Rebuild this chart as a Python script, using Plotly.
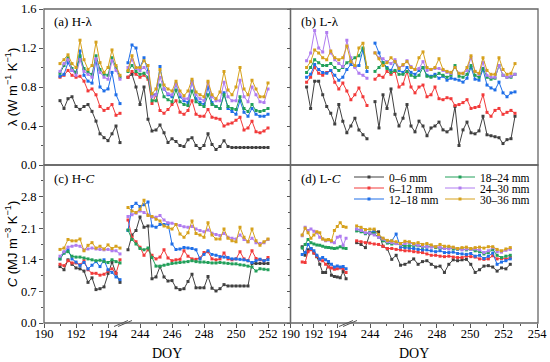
import plotly.graph_objects as go

# ---------------- time grid (DOY) ----------------
DAYS_1 = [191.0 + 0.25 * i for i in range(16)]          # first period
DAYS_2 = [243.25 + 0.25 * i for i in range(36)]         # second period
DAYS_2_LC = [round(243.2 + i * 9.2 / 35, 3) for i in range(36)]  # second period, panel (d)

LAYERS = ["0–6 mm", "6–12 mm", "12–18 mm", "18–24 mm", "24–30 mm", "30–36 mm"]
COLORS = ["#404040", "#f23a3a", "#1f6fe8", "#22a05a", "#b07cf0", "#d6a11c"]

# ---------------- (a) H-lambda ----------------
HL_06_1 = [0.66,0.58,0.68,0.70,0.60,0.57,0.60,0.62,0.55,0.45,0.32,0.28,0.25,0.32,0.40,0.23]
HL_612_1 = [0.90,0.92,0.97,0.92,0.90,0.91,0.86,0.76,0.78,0.72,0.60,0.56,0.58,0.62,0.51,0.53]
HL_1218_1 = [0.91,0.93,1.05,0.97,0.95,1.17,0.92,0.86,0.84,1.08,0.80,0.76,0.78,0.95,0.72,0.63]
HL_1824_1 = [0.94,1.02,1.10,0.99,0.95,1.12,0.99,0.95,0.93,1.12,0.98,0.93,0.92,1.10,1.00,0.90]
HL_2430_1 = [0.96,1.04,1.08,0.97,0.92,1.08,0.96,0.93,0.90,1.09,0.95,0.90,0.88,1.07,0.97,0.88]
HL_3036_1 = [1.04,1.08,1.13,1.04,1.00,1.28,1.08,0.98,1.02,1.26,1.05,0.95,1.00,1.18,1.02,0.92]

HL_06_2 = [0.90,0.93,0.80,0.62,0.80, 0.47,0.35,0.36,0.41,0.33, 0.23,0.27,0.24,0.20,0.19,
           0.26,0.28,0.20,0.17,0.20, 0.32,0.21,0.16,0.19,0.25, 0.19,0.18,0.18,0.18,0.18,
           0.18,0.18,0.18,0.18,0.18, 0.18]
HL_612_2 = [0.90,0.96,0.93,0.90,0.92, 0.88,0.63,0.72,0.56,0.53, 0.57,0.62,0.66,0.54,0.52,
            0.56,0.66,0.52,0.50,0.50, 0.57,0.49,0.48,0.47,0.40, 0.42,0.43,0.46,0.49,0.36,
            0.38,0.45,0.34,0.33,0.35, 0.38]
HL_1218_2 = [1.05,1.23,1.20,1.00,1.10, 0.96,0.72,0.72,1.01,0.78, 0.72,0.70,0.83,0.70,0.66,
             0.64,0.86,0.68,0.64,0.62, 0.80,0.64,0.60,0.58,0.74, 0.58,0.55,0.52,0.66,0.54,
             0.50,0.58,0.52,0.50,0.50, 0.52]
HL_1824_2 = [0.96,1.02,0.96,0.93,0.94, 0.90,0.66,0.66,0.82,0.70, 0.67,0.65,0.77,0.65,0.62,
             0.61,0.76,0.65,0.62,0.60, 0.72,0.62,0.60,0.58,0.72, 0.60,0.58,0.57,0.70,0.58,
             0.55,0.62,0.56,0.55,0.56, 0.58]
HL_2430_2 = [1.00,1.08,0.99,0.97,1.00, 0.95,0.70,0.72,0.90,0.78, 0.73,0.72,0.83,0.72,0.68,
             0.68,0.85,0.72,0.68,0.66, 0.84,0.70,0.66,0.66,0.85, 0.70,0.66,0.66,0.87,0.70,
             0.65,0.80,0.72,0.65,0.64, 0.78]
HL_3036_2 = [0.97,1.12,1.00,1.00,1.07, 1.02,0.73,0.78,0.98,0.82, 0.78,0.76,0.86,0.76,0.71,
             0.76,0.88,0.75,0.72,0.70, 0.86,0.72,0.68,0.75,0.96, 0.77,0.72,0.80,1.00,0.78,
             0.72,0.87,0.78,0.70,0.70, 0.84]

# ---------------- (b) L-lambda ----------------
LL_06_1 = [0.80,0.58,0.86,0.86,0.72,0.60,0.53,0.42,0.62,0.45,0.33,0.40,0.48,0.36,0.31,0.27]
LL_612_1 = [0.85,0.90,1.00,0.94,0.92,0.95,0.97,0.85,0.78,0.84,0.76,0.67,0.72,0.79,0.70,0.61]
LL_1218_1 = [0.90,0.93,1.03,0.98,0.95,0.94,0.97,0.92,0.87,0.90,0.98,1.03,1.01,1.02,1.18,0.96]
LL_1824_1 = [0.95,1.00,1.08,1.05,1.02,1.02,1.04,1.00,0.97,1.00,1.05,1.07,1.10,1.12,1.20,1.00]
LL_2430_1 = [1.07,1.15,1.38,1.20,1.16,1.36,1.15,1.08,1.04,1.01,1.28,1.10,1.00,0.94,0.92,0.89]
LL_3036_1 = [1.00,1.06,1.18,1.15,1.10,1.08,1.17,1.10,1.08,1.10,1.22,1.06,1.02,1.20,1.25,1.00]

LL_06_2 = [0.65,0.38,0.72,0.58,0.78, 0.52,0.40,0.48,0.62,0.40, 0.34,0.45,0.40,0.30,0.38,
           0.40,0.44,0.36,0.34,0.37, 0.60,0.20,0.36,0.44,0.33, 0.32,0.35,0.50,0.31,0.30,
           0.29,0.28,0.22,0.26,0.27, 0.50]
LL_612_2 = [0.88,0.92,0.90,0.96,0.93, 0.96,0.80,0.83,0.96,0.80, 0.74,0.80,0.82,0.70,0.72,
            0.80,0.68,0.67,0.69,0.68, 0.61,0.62,0.64,0.67,0.58, 0.59,0.60,0.72,0.54,0.50,
            0.56,0.58,0.52,0.54,0.56, 0.53]
LL_1218_2 = [1.25,1.15,1.05,1.00,0.97, 1.06,0.97,0.95,1.00,0.95, 0.93,0.97,1.00,0.92,0.91,
             0.93,0.89,0.91,0.87,0.89, 0.88,0.87,0.85,0.89,1.00, 0.88,0.87,0.98,0.82,0.79,
             0.77,0.85,0.74,0.70,0.74, 0.75]
LL_1824_2 = [0.96,1.00,1.05,0.99,0.95, 0.97,0.93,0.93,0.96,0.92, 0.90,0.92,1.00,0.91,0.90,
             0.91,0.94,0.92,0.90,0.92, 1.02,0.91,0.90,0.93,1.02, 0.92,0.90,0.99,0.90,0.88,
             0.89,1.02,0.92,0.90,0.90, 0.93]
LL_2430_2 = [1.15,1.10,1.09,1.06,1.04, 1.08,1.00,1.02,1.07,1.01, 0.98,0.99,1.06,0.97,0.98,
             0.99,0.99,0.97,0.95,0.94, 1.00,0.94,0.94,0.97,1.10, 0.96,0.93,1.05,0.92,0.90,
             0.90,1.02,0.92,0.90,0.91, 0.93]
LL_3036_2 = [1.15,1.09,1.02,1.05,1.10, 1.06,0.99,1.03,1.06,1.00, 0.98,1.10,1.16,1.00,0.98,
             1.00,1.09,0.98,0.96,0.95, 1.00,0.94,0.94,1.00,1.12, 0.96,0.94,1.10,0.97,0.93,
             0.93,1.10,0.98,0.93,0.94, 1.04]

# ---------------- (c) H-C ----------------
HC_06_1 = [1.25,1.18,1.40,1.30,1.22,1.20,1.15,0.90,1.00,0.74,0.76,0.80,1.10,1.35,1.10,0.90]
HC_612_1 = [1.30,1.27,1.38,1.33,1.33,1.29,1.38,1.18,1.10,1.10,1.06,1.08,1.15,1.20,1.10,1.40]
HC_1218_1 = [1.42,1.55,1.62,1.42,1.35,1.27,1.34,1.20,1.28,1.36,1.25,1.40,1.18,1.12,1.02,0.96]
HC_1824_1 = [1.42,1.55,1.58,1.48,1.46,1.46,1.44,1.42,1.40,1.38,1.39,1.36,1.34,1.40,1.36,1.33]
HC_2430_1 = [1.48,1.58,1.68,1.70,1.72,1.70,1.62,1.64,1.66,1.64,1.63,1.62,1.63,1.60,1.60,1.53]
HC_3036_1 = [1.63,1.66,1.85,1.82,1.82,1.86,1.60,1.72,1.78,1.66,1.70,1.64,1.73,1.65,1.70,1.66]

HC_06_2 = [1.62,1.95,2.05,2.35,2.12, 2.15,0.98,1.02,1.25,1.02, 0.93,0.94,0.78,0.74,0.76,
           0.92,1.08,0.78,0.78,0.78, 1.03,0.77,0.71,0.76,0.85, 0.82,0.82,0.82,0.82,0.82,
           0.82,1.32,1.32,1.32,1.32, 1.32]
HC_612_2 = [2.28,1.90,1.80,1.68,1.50, 1.62,1.50,1.42,1.46,1.62, 1.44,1.38,1.40,1.41,1.60,
            1.48,1.42,1.41,1.44,1.56, 1.58,1.42,1.40,1.42,1.55, 1.42,1.40,1.42,1.58,1.42,
            1.38,1.60,1.43,1.40,1.38, 1.45]
HC_1218_2 = [2.05,2.58,2.65,2.58,2.62, 2.68,2.15,2.12,2.18,2.18, 2.20,1.75,1.63,1.64,1.67,
             1.66,1.65,1.62,1.42,1.52, 1.60,1.52,1.50,1.47,1.46, 1.45,1.42,1.42,1.41,1.40,
             1.38,1.34,1.38,1.41,1.38, 1.40]
HC_1824_2 = [2.06,1.85,1.75,1.65,1.62, 1.66,1.45,1.26,1.26,1.28, 1.30,1.32,1.33,1.34,1.35,
             1.36,1.38,1.36,1.35,1.35, 1.34,1.33,1.33,1.34,1.33, 1.32,1.31,1.31,1.29,1.28,
             1.26,1.24,1.15,1.20,1.19, 1.18]
HC_2430_2 = [2.36,2.40,2.43,2.48,2.45, 2.40,2.34,2.34,2.38,2.28, 2.22,2.21,2.18,2.16,2.13,
             2.12,2.14,2.08,2.05,2.02, 2.06,1.99,1.96,1.94,1.98, 1.90,1.88,1.86,1.95,1.85,
             1.80,1.88,1.78,1.76,1.78, 1.85]
HC_3036_2 = [2.56,2.48,2.45,2.52,2.72, 2.38,2.36,2.30,2.26,2.15, 2.12,2.08,2.18,1.97,1.90,
             2.00,2.26,1.98,1.95,1.90, 2.22,1.95,1.86,1.86,2.08, 1.88,1.82,1.80,2.12,1.90,
             1.80,2.08,1.82,1.72,1.80, 1.86]

# ---------------- (d) L-C ----------------
LC_06_1 = [1.69,1.50,1.62,1.65,1.55,1.47,1.30,1.12,1.12,1.34,1.06,1.03,1.02,1.00,1.14,0.98]
LC_612_1 = [1.35,1.34,1.58,1.62,1.55,1.48,1.40,1.38,1.30,1.24,1.22,1.19,1.20,1.22,1.20,1.12]
LC_1218_1 = [1.52,1.56,1.74,1.65,1.60,1.50,1.42,1.45,1.40,1.36,1.30,1.24,1.26,1.24,1.25,1.20]
LC_1824_1 = [1.66,1.74,1.85,1.78,1.75,1.73,1.72,1.70,1.68,1.67,1.66,1.65,1.66,1.69,1.66,1.65]
LC_2430_1 = [1.93,2.12,2.05,2.08,2.03,2.00,1.90,1.86,1.82,1.84,1.80,1.78,1.90,1.92,1.72,1.88]
LC_3036_1 = [1.95,2.10,2.00,1.88,1.95,2.02,2.00,1.86,1.84,1.85,1.82,2.05,2.14,2.22,2.14,2.12]

LC_06_2 = [1.78,1.74,1.67,1.98,2.03, 2.02,1.70,1.64,1.41,1.50, 1.28,1.30,1.35,1.42,1.30,
           1.36,1.38,1.30,1.24,1.26, 1.12,1.30,1.40,1.38,1.40, 1.41,1.30,1.12,1.18,1.26,
           1.27,1.24,1.15,1.22,1.20, 1.30]
LC_612_2 = [1.82,1.80,1.78,1.77,1.75, 1.74,1.70,1.65,1.65,1.63, 1.62,1.60,1.60,1.58,1.57,
            1.56,1.53,1.50,1.50,1.48, 1.47,1.48,1.46,1.45,1.45, 1.48,1.47,1.46,1.42,1.41,
            1.42,1.49,1.42,1.43,1.42, 1.45]
LC_1218_2 = [2.08,2.06,1.98,2.00,2.04, 1.94,1.86,1.79,1.82,1.97, 1.68,1.67,1.66,1.65,1.63,
             1.62,1.62,1.60,1.58,1.60, 1.56,1.56,1.57,1.54,1.53, 1.52,1.54,1.48,1.50,1.43,
             1.48,1.55,1.30,1.35,1.38, 1.42]
LC_1824_2 = [2.04,2.02,1.98,2.00,1.98, 1.90,1.82,1.77,1.75,1.76, 1.72,1.71,1.71,1.72,1.71,
             1.68,1.69,1.70,1.67,1.66, 1.65,1.66,1.64,1.63,1.64, 1.62,1.63,1.60,1.58,1.53,
             1.56,1.63,1.50,1.45,1.48, 1.50]
LC_2430_2 = [2.08,2.05,2.00,1.99,1.95, 1.90,1.86,1.80,1.78,1.76, 1.73,1.76,1.78,1.74,1.72,
             1.70,1.69,1.68,1.69,1.67, 1.65,1.64,1.67,1.64,1.62, 1.64,1.63,1.64,1.62,1.56,
             1.60,1.67,1.58,1.57,1.61, 1.63]
LC_3036_2 = [2.15,2.12,2.07,2.08,2.08, 1.96,1.88,1.83,1.82,1.80, 1.76,1.81,1.80,1.76,1.78,
             1.74,1.76,1.73,1.69,1.74, 1.70,1.70,1.68,1.65,1.67, 1.68,1.65,1.67,1.68,1.66,
             1.69,1.69,1.63,1.60,1.64, 1.67]

Y_TICKS_LAMBDA = [0.0, 0.4, 0.8, 1.2, 1.6]
Y_TICKS_C = [0.0, 0.7, 1.4, 2.1, 2.8]
X_TICKS_1 = [190, 192, 194]
X_TICKS_2_LEFT = [244, 246, 248, 250, 252]
X_TICKS_2_RIGHT = [244, 246, 248, 250, 252, 254]

# ---------------- geometry ----------------
W, H = 550, 362
ML, MR, MT, MB = 44, 12, 9, 39
PW, PH = W - ML - MR, H - MT - MB


def fx(p):
    return (p - ML) / PW


def fy(p):
    return (H - MB - p) / PH


XL0, XMID, XR1 = 44, 290.5, 538
BRK_L, BRK_B, BRK_D = 124, 371, 349
YMID = 165

FONT = "Liberation Serif"
AX_COL = "#555555"

panels = [
    # name, xa, xb, y, days2, seg1 lists, seg2 lists
    ("a", "x", "x2", "y", DAYS_2,
     [HL_06_1, HL_612_1, HL_1218_1, HL_1824_1, HL_2430_1, HL_3036_1],
     [HL_06_2, HL_612_2, HL_1218_2, HL_1824_2, HL_2430_2, HL_3036_2]),
    ("b", "x3", "x4", "y2", DAYS_2,
     [LL_06_1, LL_612_1, LL_1218_1, LL_1824_1, LL_2430_1, LL_3036_1],
     [LL_06_2, LL_612_2, LL_1218_2, LL_1824_2, LL_2430_2, LL_3036_2]),
    ("c", "x5", "x6", "y3", DAYS_2,
     [HC_06_1, HC_612_1, HC_1218_1, HC_1824_1, HC_2430_1, HC_3036_1],
     [HC_06_2, HC_612_2, HC_1218_2, HC_1824_2, HC_2430_2, HC_3036_2]),
    ("d", "x7", "x8", "y4", DAYS_2_LC,
     [LC_06_1, LC_612_1, LC_1218_1, LC_1824_1, LC_2430_1, LC_3036_1],
     [LC_06_2, LC_612_2, LC_1218_2, LC_1824_2, LC_2430_2, LC_3036_2]),
]

LEGEND_IDS = ["legend", "legend2", "legend3", "legend4", "legend5", "legend6"]

fig = go.Figure()
for name, xa, xb, ya, days2, seg1, seg2 in panels:
    for i in range(6):
        for xax, xs, ys, first in ((xa, DAYS_1, seg1[i], True), (xb, days2, seg2[i], False)):
            show = (name == "d" and first)
            fig.add_trace(go.Scatter(
                x=xs, y=ys, xaxis=xax, yaxis=ya, mode="lines+markers",
                name=LAYERS[i], legendgroup=LAYERS[i], showlegend=show,
                legend=LEGEND_IDS[i],
                line=dict(color=COLORS[i], width=1),
                marker=dict(color=COLORS[i], size=3, symbol="square"),
                hoverinfo="skip"))

tickfont = dict(family=FONT, size=12.5, color="black")


def xaxis(dom, rng, anchor, tickvals=None, minor=None):
    d = dict(domain=[fx(dom[0]), fx(dom[1])], range=rng, anchor=anchor,
             showgrid=False, zeroline=False, showline=False, fixedrange=True,
             automargin=False)
    if tickvals is None:
        d.update(showticklabels=False, ticks="")
    else:
        d.update(tickmode="array", tickvals=tickvals, ticktext=[str(v) for v in tickvals],
                 ticks="outside", ticklen=4, tickwidth=1, tickcolor=AX_COL,
                 tickfont=tickfont, tickangle=0, ticklabelstandoff=-5,
                 minor=dict(tickvals=minor, ticks="outside", ticklen=2, tickcolor=AX_COL))
    return d


def yaxis(dom, rng, anchor, tickvals, minor_dt, labels, title=None):
    d = dict(domain=[fy(dom[0]), fy(dom[1])], range=rng, anchor=anchor,
             showgrid=False, zeroline=False, showline=False, fixedrange=True,
             automargin=False,
             tickmode="array", tickvals=tickvals,
             ticktext=[f"{v:.1f}" for v in tickvals],
             ticks="outside", ticklen=4 if labels else 3, tickwidth=1, tickcolor=AX_COL,
             showticklabels=labels, tickfont=tickfont,
             minor=dict(ticks="outside", ticklen=2, dtick=minor_dt, tick0=0, tickcolor=AX_COL))
    if title:
        d["title"] = dict(text=title, font=dict(family="Liberation Sans", size=13, color="black"),
                          standoff=0)
    return d


# pixel-per-day scales
sA = (BRK_L - XL0) / 5.0
sD2 = 16.7
layout_axes = dict(
    xaxis=xaxis((XL0, BRK_L), [190, 195], "y"),
    xaxis2=xaxis((BRK_L, XMID), [243, 243 + (XMID - BRK_L) / sA], "y"),
    xaxis3=xaxis((XMID, BRK_B), [190, 195], "y2"),
    xaxis4=xaxis((BRK_B, XR1), [243, 243 + (XR1 - BRK_B) / sA], "y2"),
    xaxis5=xaxis((XL0, BRK_L), [190, 195], "y3", X_TICKS_1, [191, 193]),
    xaxis6=xaxis((BRK_L, XMID), [243, 243 + (XMID - BRK_L) / sA], "y3",
                 X_TICKS_2_LEFT, [245, 247, 249, 251, 253]),
    xaxis7=xaxis((XMID, BRK_D), [190, 195], "y4", X_TICKS_1, [191, 193]),
    xaxis8=xaxis((BRK_D, XR1), [244 - (370 - BRK_D) / sD2, 244 + (XR1 - 370) / sD2], "y4",
                 X_TICKS_2_RIGHT, [243, 245, 247, 249, 251, 253]),
    yaxis=yaxis((YMID, 9), [0, 1.6], "x", Y_TICKS_LAMBDA, 0.2, True,
                "λ (W m<sup>−1</sup> K<sup>−1</sup>)"),
    yaxis2=yaxis((YMID, 9), [0, 1.6], "x3", Y_TICKS_LAMBDA, 0.2, False),
    yaxis3=yaxis((323, YMID), [0, 3.5], "x5", Y_TICKS_C, 0.35, True,
                 "<i>C</i> (MJ m<sup>−3</sup> K<sup>−1</sup>)"),
    yaxis4=yaxis((323, YMID), [0, 3.5], "x7", Y_TICKS_C, 0.35, False),
)

# frames
shapes = []
for x0, x1, y0, y1 in ((XL0, XMID, YMID, 9), (XMID, XR1, YMID, 9),
                       (XL0, XMID, 323, YMID), (XMID, XR1, 323, YMID)):
    shapes.append(dict(type="rect", xref="paper", yref="paper",
                       x0=fx(x0), x1=fx(x1), y0=fy(y0), y1=fy(y1),
                       line=dict(color="#666666", width=1.3), fillcolor="rgba(0,0,0,0)",
                       layer="above"))
# axis-break marks
for bx in (BRK_L, BRK_D):
    for off in (-2, 2):
        shapes.append(dict(type="line", xref="paper", yref="paper",
                           x0=fx(bx - 8 + off), y0=fy(326.5), x1=fx(bx + 6 + off), y1=fy(320.5),
                           line=dict(color="#555555", width=1)))

annotations = []
for txt, x, y in (("(a) H-λ", 52, 22), ("(b) L-λ", 299, 22),
                  ("(c) H-<i>C</i>", 52, 178), ("(d) L-<i>C</i>", 299, 178)):
    annotations.append(dict(text=txt, x=fx(x), y=fy(y), xref="paper", yref="paper",
                            xanchor="left", yanchor="middle", showarrow=False,
                            font=dict(family=FONT, size=13, color="black")))
for x in ((XL0 + XMID) / 2, (XMID + XR1) / 2):
    annotations.append(dict(text="DOY", x=fx(x), y=fy(353), xref="paper", yref="paper",
                            xanchor="center", yanchor="middle", showarrow=False,
                            font=dict(family=FONT, size=14, color="black")))

legend_common = dict(orientation="h", xanchor="left", yanchor="middle",
                     bgcolor="rgba(0,0,0,0)", borderwidth=0,
                     font=dict(family=FONT, size=11.5, color="black"),
                     itemwidth=30, itemclick=False, itemdoubleclick=False)
LEG_X = [349, 349, 349, 440, 440, 440]
LEG_Y = [177, 188, 199, 177, 188, 199]
legends = {LEGEND_IDS[i]: dict(legend_common, x=fx(LEG_X[i]), y=fy(LEG_Y[i])) for i in range(6)}

fig.update_layout(
    width=W, height=H,
    margin=dict(l=ML, r=MR, t=MT, b=MB, autoexpand=False),
    paper_bgcolor="white", plot_bgcolor="white",
    showlegend=True,
    shapes=shapes, annotations=annotations,
    **legends,
    **layout_axes,
)

fig.write_html("out.html", config={"displayModeBar": False},
               post_script="document.body.style.margin='0';document.body.style.overflow='hidden';")
